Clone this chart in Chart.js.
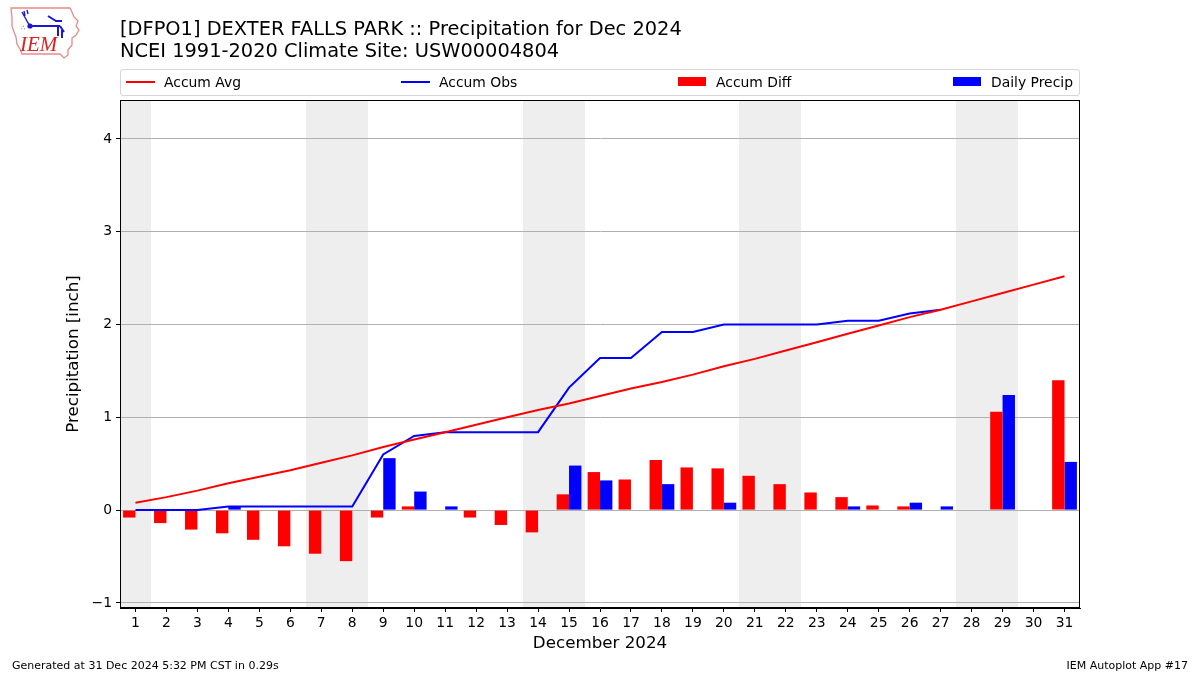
<!DOCTYPE html>
<html>
<head>
<meta charset="utf-8">
<script src="https://cdn.jsdelivr.net/npm/chart.js@4.4.1/dist/chart.umd.min.js"></script>
<style>
  html, body { margin: 0; padding: 0; background: #fff; }
  body { width: 1200px; height: 675px; position: relative; overflow: hidden; font-family: "DejaVu Sans", sans-serif; color: #000; }
  #chart { position: absolute; left: 0; top: 0; }
  .title { position: absolute; left: 120px; font-size: 19.4px; line-height: 22px; white-space: nowrap; }
  .legend { position: absolute; left: 120px; top: 69px; width: 958px; height: 25px; border: 1px solid #d6d6d6; border-radius: 3px; background: #fff; }
  .item { position: absolute; top: 0; height: 25px; line-height: 25px; font-size: 13.9px; white-space: nowrap; }
  .item .ln { position: absolute; left: 0; top: 11px; width: 29px; height: 2px; }
  .item .bx { position: absolute; left: 0; top: 7px; width: 28px; height: 9px; }
  .item span { position: absolute; left: 38px; top: 0; }
  .foot { position: absolute; top: 659px; font-size: 11px; white-space: nowrap; }
  #logo { position: absolute; left: 8px; top: 4px; }
</style>
</head>
<body>
<canvas id="chart" width="1200" height="675"></canvas>

<svg id="logo" width="76" height="56" viewBox="0 0 76 56">
  <path d="M3 4 L62 4 L64 8 L66 13 L70 17 L68 22 L71 26 L68 31 L64 34 L64 41 L60 46 L60 51 L56 54 L52 50 L14 50 L12 45 L9 40 L8 33 L6 28 L4 22 L4 14 Z" fill="none" stroke="#e88a8a" stroke-width="1.3"/>
  <path d="M14 8 L20 19 L22 22 M16 7 L17 12 M19 6 L20 10" stroke="#1a1acc" stroke-width="1.4" fill="none"/>
  <circle cx="22" cy="22" r="2.6" fill="#1a1acc"/>
  <path d="M22 22 L52 22 M40 12 L48 17 L54 17 M52 22 L56 28 M50 22 L50 32 M54 26 L54 34" stroke="#1a1acc" stroke-width="2" fill="none"/>
  <text x="13" y="26" font-size="7" fill="#1a1acc">&#8756;</text>
  <text x="12" y="47" font-family="Liberation Serif" font-style="italic" font-size="21" fill="#dd2222">IEM</text>
</svg>

<div class="title" style="top:18px">[DFPO1] DEXTER FALLS PARK :: Precipitation for Dec 2024</div>
<div class="title" style="top:40px">NCEI 1991-2020 Climate Site: USW00004804</div>

<div class="legend">
  <div class="item" style="left:5px"><div class="ln" style="background:#ff0000"></div><span>Accum Avg</span></div>
  <div class="item" style="left:280px"><div class="ln" style="background:#0000ff"></div><span>Accum Obs</span></div>
  <div class="item" style="left:557px"><div class="bx" style="background:#ff0000"></div><span>Accum Diff</span></div>
  <div class="item" style="left:832px"><div class="bx" style="background:#0000ff"></div><span>Daily Precip</span></div>
</div>

<div class="foot" style="left:12px">Generated at 31 Dec 2024 5:32 PM CST in 0.29s</div>
<div class="foot" style="right:12px">IEM Autoplot App #17</div>

<script>
const days = ['1','2','3','4','5','6','7','8','9','10','11','12','13','14','15','16',
  '17','18','19','20','21','22','23','24','25','26','27','28','29','30','31'];

// climatology accumulation (inch)
const accumAvg = [0.08,0.14,0.21,0.29,0.36,0.43,0.51,0.59,0.68,0.76,0.84,0.92,1.00,1.08,1.15,1.23,
  1.31,1.38,1.46,1.55,1.63,1.72,1.81,1.90,1.99,2.08,2.16,2.25,2.34,2.43,2.52];

// observed accumulation, line stops after the 27th
const accumObs = [0,0,0,0.04,0.04,0.04,0.04,0.04,0.60,0.80,0.84,0.84,0.84,0.84,1.32,1.64,
  1.64,1.92,1.92,2.00,2.00,2.00,2.00,2.04,2.04,2.12,2.16,null,null,null,null];

const accumDiff = [-0.08,-0.14,-0.21,-0.25,-0.32,-0.39,-0.47,-0.55,-0.08,0.04,0,-0.08,-0.16,-0.24,0.17,0.41,
  0.33,0.54,0.46,0.45,0.37,0.28,0.19,0.14,0.05,0.04,0,null,1.06,null,1.40];

const dailyPrecip = [0,0,0,0.04,0,0,0,0,0.56,0.20,0.04,0,0,0,0.48,0.32,
  0,0.28,0,0.08,0,0,0,0.04,0,0.08,0.04,null,1.24,null,0.52];

// weekend spans (first day, last day)
const weekends = [[1, 1], [7, 8], [14, 15], [21, 22], [28, 29]];
const yTicks = [-1, 0, 1, 2, 3, 4];

const font = { family: 'DejaVu Sans', size: 13.9 };

const shading = {
  id: 'shading',
  beforeDraw(chart) {
    const { ctx, chartArea: a, scales: { x } } = chart;
    const half = (x.getPixelForValue(1) - x.getPixelForValue(0)) / 2;
    ctx.save();
    ctx.beginPath();
    ctx.rect(a.left, a.top, a.right - a.left, a.bottom - a.top);
    ctx.clip();
    ctx.fillStyle = '#eeeeee';
    for (const [d0, d1] of weekends) {
      const l = Math.round(x.getPixelForValue(d0 - 1) - half);
      const r = Math.round(x.getPixelForValue(d1 - 1) + half);
      ctx.fillRect(l, a.top, r - l, a.bottom - a.top);
    }
    ctx.restore();
  },
  afterDraw(chart) {
    const { ctx, chartArea: a } = chart;
    ctx.save();
    ctx.strokeStyle = '#000';
    ctx.lineWidth = 1;
    ctx.strokeRect(Math.round(a.left) + 0.5, Math.round(a.top) + 0.5, Math.round(a.right - a.left) - 1, Math.round(a.bottom - a.top) - 1);
    ctx.restore();
  }
};

new Chart(document.getElementById('chart'), {
  data: {
    labels: days,
    datasets: [
      { type: 'line', label: 'Accum Avg', data: accumAvg, borderColor: '#ff0000', borderWidth: 2, pointRadius: 0, tension: 0, order: 0 },
      { type: 'line', label: 'Accum Obs', data: accumObs, borderColor: '#0000ff', borderWidth: 2, pointRadius: 0, tension: 0, spanGaps: false, order: 0 },
      { type: 'bar', label: 'Accum Diff', data: accumDiff, backgroundColor: '#ff0000', borderWidth: 0, categoryPercentage: 0.8, barPercentage: 1.0, order: 1 },
      { type: 'bar', label: 'Daily Precip', data: dailyPrecip, backgroundColor: '#0000ff', borderWidth: 0, categoryPercentage: 0.8, barPercentage: 1.0, order: 1 },
    ],
  },
  options: {
    responsive: false,
    animation: false,
    devicePixelRatio: 1,
    layout: { padding: { left: 0, top: 100, right: 120, bottom: 0 } },
    plugins: { legend: { display: false }, tooltip: { enabled: false }, title: { display: false } },
    scales: {
      x: {
        type: 'category',
        offset: true,
        grid: { display: true, offset: false, drawOnChartArea: false, drawTicks: true, tickLength: 4, tickColor: '#000' },
        border: { display: true, color: '#000', width: 1 },
        ticks: { color: '#000', font, padding: 3, maxRotation: 0, autoSkip: false },
        title: { display: true, text: 'December 2024', color: '#000', font: { family: 'DejaVu Sans', size: 16.7 }, padding: { top: 0, bottom: 21 } },
        afterFit(s) { s.height = 67; },
      },
      y: {
        type: 'linear',
        min: -1.055,
        max: 4.42,
        grid: { color: '#b0b0b0', lineWidth: 1, drawTicks: true, tickLength: 4, tickColor: '#000' },
        border: { display: true, color: '#000', width: 1 },
        ticks: {
          color: '#000', font, padding: 4, stepSize: 1,
          callback: (v) => (v < 0 ? '\u2212' + Math.abs(v) : String(v)),
        },
        afterBuildTicks(s) { s.ticks = yTicks.map((v) => ({ value: v })); },
        title: { display: true, text: 'Precipitation [inch]', color: '#000', font: { family: 'DejaVu Sans', size: 16.7 }, padding: { top: 64, bottom: 0 } },
        afterFit(s) { s.width = 120; },
      },
    },
  },
  plugins: [shading],
});
</script>
</body>
</html>
